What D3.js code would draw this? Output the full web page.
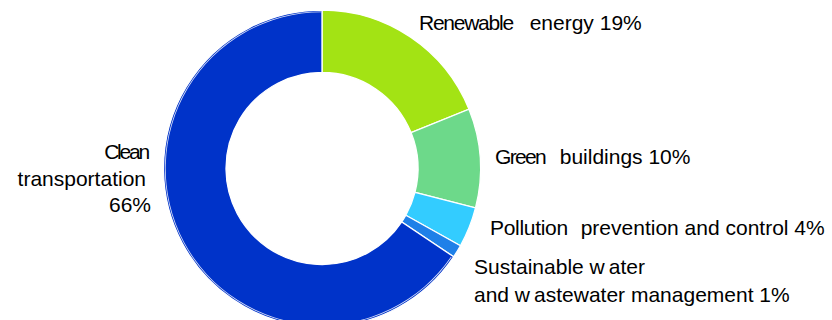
<!DOCTYPE html>
<html><head><meta charset="utf-8">
<script src="https://cdn.jsdelivr.net/npm/d3@7"></script>
<style>
html,body{margin:0;padding:0;background:#fff;}
svg text{font-family:"Liberation Sans",Arial,sans-serif;font-size:21px;fill:#000;}
</style></head>
<body>
<svg id="chart" width="832" height="320"></svg>
<script>
const categories = ["Renewable energy", "Green buildings", "Pollution prevention and control", "Sustainable water and wastewater management", "Clean transportation"];
const values = [18.9, 10.1, 4.1, 1.3, 65.6];
const percentLabels = ["19%", "10%", "4%", "1%", "66%"];
const colors = ["#a3e314", "#6dd98a", "#33ccff", "#1f80e8", "#0033c9"];

const svg = d3.select("#chart");
const cx = 322, cy = 168.5, R = 158.5, r = 96;
const g = svg.append("g").attr("transform", `translate(${cx},${cy})`);

const pie = d3.pie().sort(null).value(d => d.v);
const data = pie(categories.map((c, i) => ({c, v: values[i], col: colors[i]})));
const arc = d3.arc().innerRadius(r).outerRadius(R);

g.selectAll("path.slice").data(data).enter().append("path")
  .attr("class", "slice")
  .attr("d", arc)
  .attr("fill", d => d.data.col)
  .attr("stroke", "#fff").attr("stroke-width", 1.3).attr("stroke-linejoin", "miter");

// thin inner highlight on outer edge of the big slice
const last = data[data.length - 1];
g.append("path")
  .attr("d", d3.arc().innerRadius(R - 2.2).outerRadius(R - 1.4)({startAngle: last.startAngle + 0.01, endAngle: last.endAngle - 0.005}))
  .attr("fill", "#fff").attr("opacity", 0.85);

// labels
function label(x, y, anchor, parts) {
  const t = svg.append("text").attr("x", x).attr("y", y).attr("text-anchor", anchor);
  parts.forEach(p => {
    const s = t.append("tspan").text(p.t);
    if (p.ls) s.attr("letter-spacing", p.ls);
    if (p.dx) s.attr("dx", p.dx);
  });
  return t;
}
const words = categories.map(c => c.split(" "));
label(419, 30, "start", [{t: words[0][0], ls: -1.25}, {t: " " + words[0][1], dx: 11}, {t: " " + percentLabels[0]}]);
label(495, 163.5, "start", [{t: words[1][0], ls: -1.7}, {t: " " + words[1][1], dx: 9}, {t: " " + percentLabels[1]}]);
label(490, 234.5, "start", [{t: words[2][0], ls: -0.3}, {t: " " + words[2].slice(1).join(" "), dx: 7}, {t: " " + percentLabels[2]}]);
label(474, 274, "start", [{t: "Sustainable w"}, {t: "ater", dx: 4}]);
label(474, 301.5, "start", [{t: "and w"}, {t: "astewater management", dx: 4}, {t: " " + percentLabels[3]}]);
label(148, 158.5, "end", [{t: words[4][0], ls: -2.2}]);
label(146, 185.5, "end", [{t: words[4][1]}]);
label(151, 212, "end", [{t: percentLabels[4]}]);
</script>
</body></html>
